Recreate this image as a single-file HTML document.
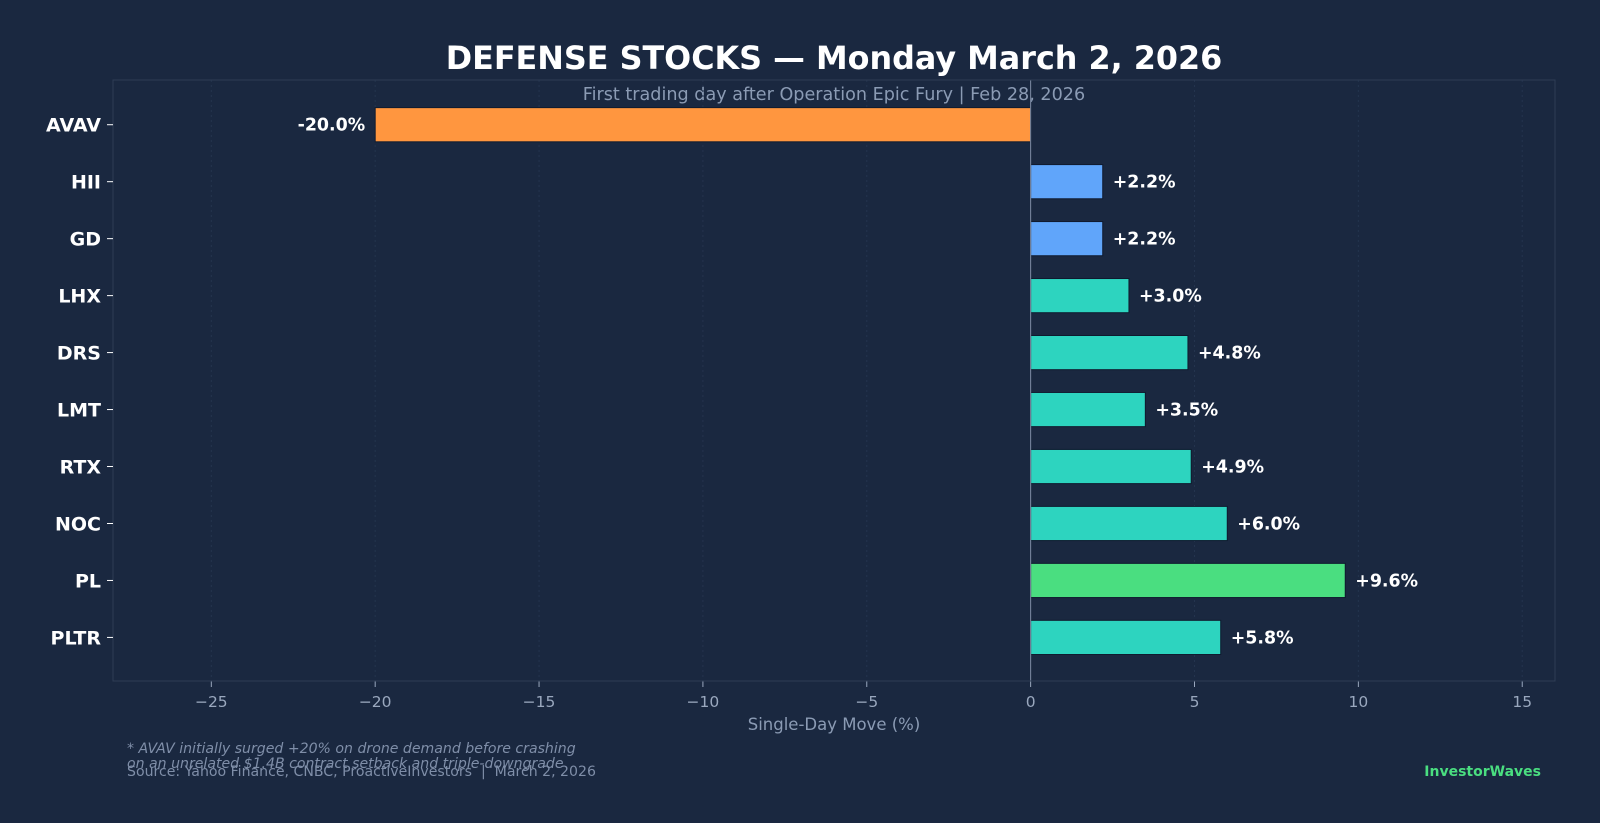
<!DOCTYPE html>
<html><head><meta charset="utf-8"><style>
html,body{margin:0;padding:0;background:#1a2840;}
svg{display:block;font-family:"DejaVu Sans","Liberation Sans",sans-serif;}
text{white-space:pre;}
</style></head><body>
<svg id="chart" width="1600" height="823" viewBox="0 0 1600 823">
<rect width="1600" height="823" fill="#1a2840"/>
<text x="834" y="69" text-anchor="middle" font-size="31.8" font-weight="bold" fill="#ffffff">DEFENSE STOCKS — Monday March 2, 2026</text>
<text x="834" y="100" text-anchor="middle" font-size="17.6" fill="#8b9bb4">First trading day after Operation Epic Fury | Feb 28, 2026</text>
<g id="grid"></g>
<g id="bars"></g>
<g id="axes"></g>
<text x="834" y="730" text-anchor="middle" font-size="16.5" fill="#8b9bb4">Single-Day Move (%)</text>
<text x="127" y="753" font-size="14.1" font-style="italic" fill="#7f8ea8">* AVAV initially surged +20% on drone demand before crashing</text>
<text x="127" y="768" font-size="14.1" font-style="italic" fill="#7f8ea8">on an unrelated $1.4B contract setback and triple-downgrade</text>
<text x="127" y="776" font-size="14.1" fill="#7f8ea8">Source: Yahoo Finance, CNBC, ProactiveInvestors  |  March 2, 2026</text>
<text x="1541" y="776" text-anchor="end" font-size="14" font-weight="bold" fill="#4ade80">InvestorWaves</text>
</svg>
<script>
const tickers = ["AVAV","HII","GD","LHX","DRS","LMT","RTX","NOC","PL","PLTR"];
const moves = [-20.0, 2.2, 2.2, 3.0, 4.8, 3.5, 4.9, 6.0, 9.6, 5.8];
const barColors = ["#ff963f","#60a5fa","#60a5fa","#2dd4bf","#2dd4bf","#2dd4bf","#2dd4bf","#2dd4bf","#4ade80","#2dd4bf"];
const xTicks = [-25,-20,-15,-10,-5,0,5,10,15];

const NS="http://www.w3.org/2000/svg";
const L=113,R=1555,T=80,B=681,xmin=-28,xmax=16;
const x=v=>L+(v-xmin)/(xmax-xmin)*(R-L);
const step=(B-T)/(tickers.length+0.55);
const y=i=>T+step*0.785+i*step;
const bh=step*0.6;
function mk(tag,attrs,parent){const e=document.createElementNS(NS,tag);for(const k in attrs)e.setAttribute(k,attrs[k]);parent.appendChild(e);return e;}
const grid=document.getElementById('grid'),bars=document.getElementById('bars'),axes=document.getElementById('axes');

xTicks.forEach(t=>{
  const g=mk('line',{x1:x(t),x2:x(t),y1:T,y2:B,stroke:'#24344e','stroke-dasharray':'2,3','stroke-width':1},grid);
  
  
  const tk=mk('line',{x1:x(t),x2:x(t),y1:B,y2:B+6,stroke:'#9aa8be'},axes);
  
  
  const tl=mk('text',{x:x(t),y:B+26,'text-anchor':'middle','font-size':15.5,fill:'#9aa8be'},axes);
  tl.textContent=(t<0?'\u2212':'')+Math.abs(t);
  
  
});
const sp=mk('rect',{x:L,y:T,width:R-L,height:B-T,fill:'none',stroke:'#2e3d55'},axes);



tickers.forEach((n,i)=>{
  const v=moves[i],x0=x(Math.min(0,v)),w=Math.abs(x(v)-x(0));
  const r=mk('rect',{x:x0,y:y(i)-bh/2,width:w,height:bh,fill:barColors[i],stroke:'#0f1a2e','stroke-width':1},bars);
  
  
  const lb=mk('text',{x:v<0?x(v)-10:x(v)+10,y:y(i)+6,'text-anchor':v<0?'end':'start','font-size':17.4,'font-weight':'bold',fill:'#ffffff'},bars);
  lb.textContent=(v<0?'':'+')+v.toFixed(1)+'%';
  
  
  const tk=mk('line',{x1:L-6,x2:L,y1:y(i),y2:y(i),stroke:'#ffffff'},axes);
  
  
  const yl=mk('text',{x:L-12,y:y(i)+7,'text-anchor':'end','font-size':19,'font-weight':'bold',fill:'#ffffff'},axes);
  yl.textContent=n;
  
  
});
const z=mk('line',{x1:x(0),x2:x(0),y1:T,y2:B,stroke:'#7d8ba3','stroke-width':1},bars);


</script>
</body></html>
